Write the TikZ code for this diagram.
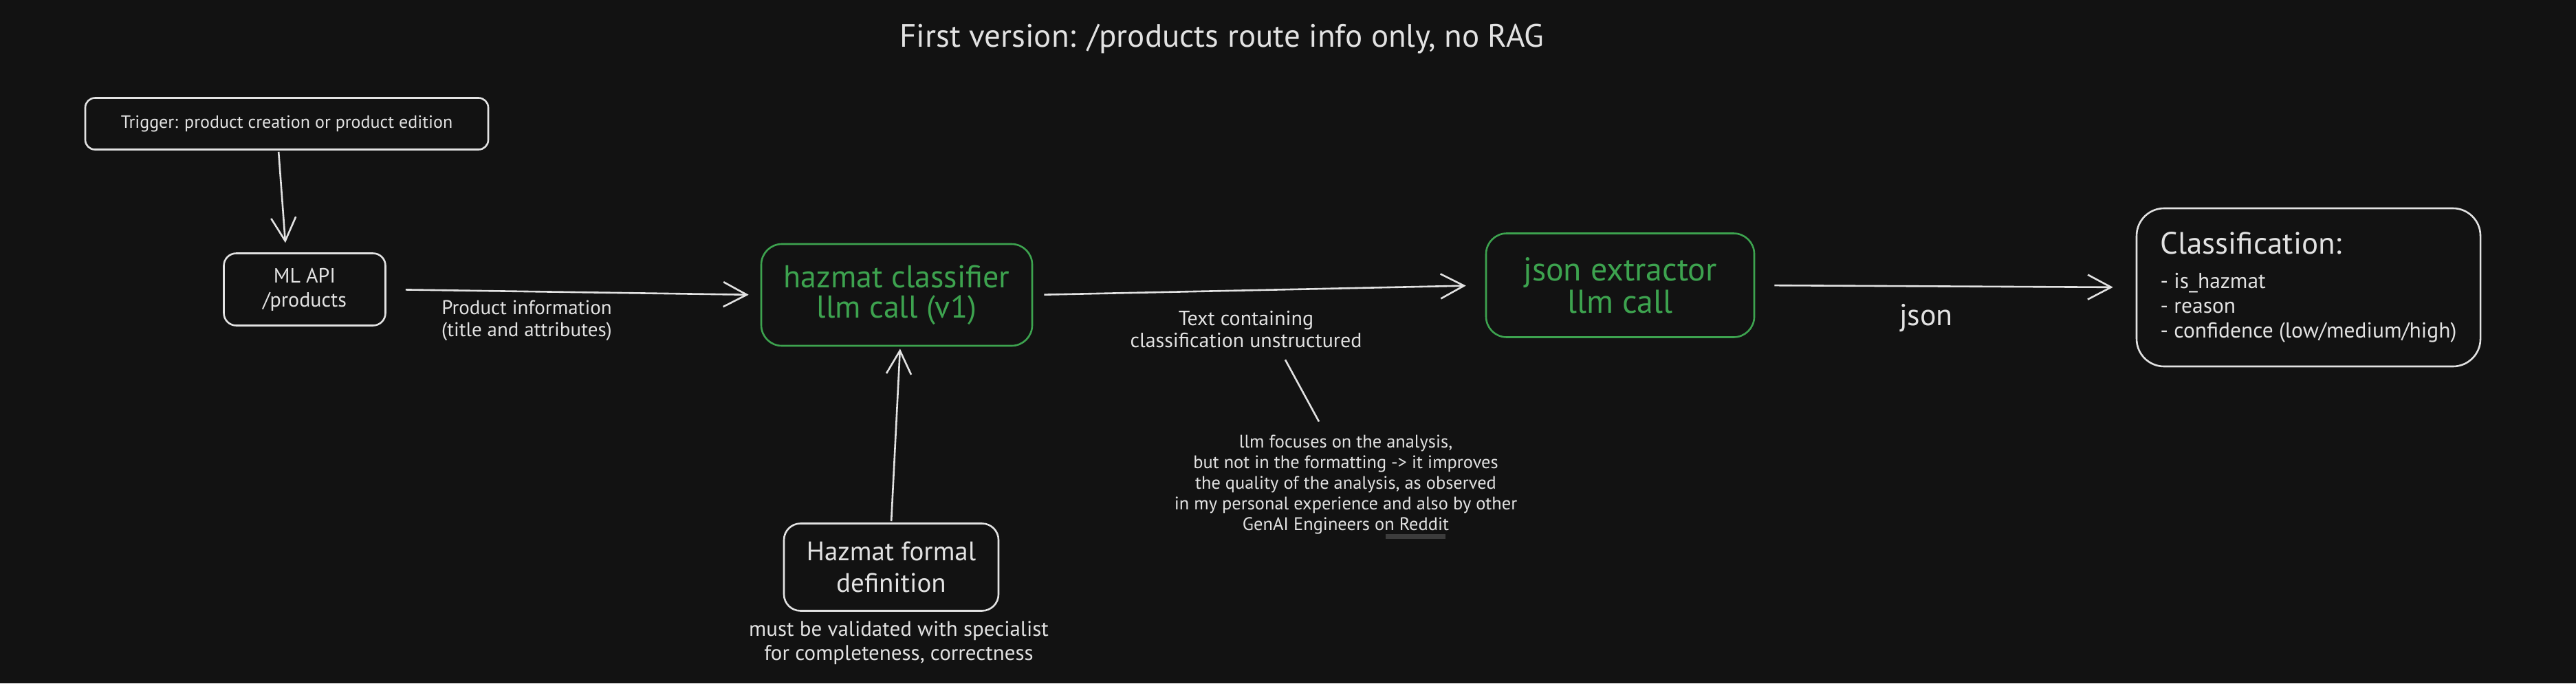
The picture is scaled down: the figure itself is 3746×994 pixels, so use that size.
\documentclass[tikz,border=0pt]{standalone}
\usepackage{fontspec}
\setmainfont{PT Sans}
\usetikzlibrary{arrows.meta,positioning}

\definecolor{bgdark}{HTML}{121212}
\definecolor{ink}{HTML}{E2E2E2}
\definecolor{leaf}{HTML}{3DA34F}
\definecolor{linkgray}{HTML}{3C3C3C}

\begin{document}
\begin{tikzpicture}[x=1pt, y=-1pt,
    every node/.style={text=ink, align=center},
    box/.style={draw=ink, line width=2.6pt, rounded corners=18pt, inner sep=0pt},
    llmbox/.style={box, draw=leaf, text=leaf, rounded corners=30pt},
    flow/.style={draw=ink, line width=2.6pt, -{Straight Barb[length=34pt,width=36pt,line width=2.6pt]}}]
  \fill[bgdark] (0,0) rectangle (3746,994);
  \useasboundingbox (0,0) rectangle (3746,994);

  \node[font={\fontsize{47}{54}\selectfont}] (title) at (1777,57) {First version: /products route info only, no RAG};

  \node[box, rounded corners=14pt, minimum width=586pt, minimum height=75pt, font={\fontsize{26}{30}\selectfont}] (trig) at (417,180) {Trigger: product creation or product edition};
  \node[box, minimum width=235pt, minimum height=105pt, font={\fontsize{30}{35}\selectfont}] (api) at (443,421) {ML API\\/products};
  \node[llmbox, minimum width=394pt, minimum height=148pt, font={\fontsize{46}{44}\selectfont}] (hz) at (1304,429) {hazmat classifier\\llm call (v1)};
  \node[box, rounded corners=24pt, minimum width=312pt, minimum height=127pt, font={\fontsize{39}{46}\selectfont}] (def) at (1296,825) {Hazmat formal\\definition};
  \node[llmbox, minimum width=390pt, minimum height=151pt, font={\fontsize{48}{47}\selectfont}] (json) at (2356,415) {json extractor\\llm call};
  \node[box, rounded corners=40pt, minimum width=500pt, minimum height=230pt, align=left,
        font={\fontsize{31.5}{36}\selectfont}] (cls) at (3357,418)
    {{\fontsize{45}{50}\selectfont Classification:}\\[14pt]
     - is\_hazmat\\- reason\\- confidence (low/medium/high)};

  \node[font={\fontsize{29}{32}\selectfont}] (prodinfo) at (766,466) {Product information\\(title and attributes)};
  \node[font={\fontsize{30}{32}\selectfont}] (txtlbl) at (1812,479) {Text containing\\classification unstructured};
  \node[font={\fontsize{44}{44}\selectfont}] (jsonlbl) at (2801,463) {json};
  \node[font={\fontsize{31}{35}\selectfont}] (defnote) at (1307,935) {must be validated with specialist\\for completeness, correctness};
  \node[font={\fontsize{26.4}{30}\selectfont}] (note) at (1957,705) {llm focuses on the analysis,\\but not in the formatting -> it improves\\the quality of the analysis, as observed\\in my personal experience and also by other\\GenAI Engineers on Reddit};
  \node[fill=linkgray, minimum width=87pt, minimum height=7pt, inner sep=0pt] (link) at (2058,780) {};

  \draw[flow, shorten <=2pt, shorten >=14pt] ([xshift=-12pt]trig.south) -- ([xshift=-27pt]api.north);
  \draw[flow, shorten <=28pt, shorten >=17pt] (api.east) -- (hz.west);
  \draw[flow, shorten <=16pt, shorten >=28pt] (hz.east) -- (json.west);
  \draw[flow, shorten <=28pt, shorten >=33pt] (json.east) -- (cls.west);
  \draw[flow, shorten <=2pt, shorten >=3pt] (def.north) -- ([xshift=5pt]hz.south);
  \draw[draw=ink, line width=2.6pt] ([xshift=57pt, yshift=-14pt]txtlbl.south) -- ([xshift=-39pt, yshift=16pt]note.north);
\end{tikzpicture}
\end{document}
